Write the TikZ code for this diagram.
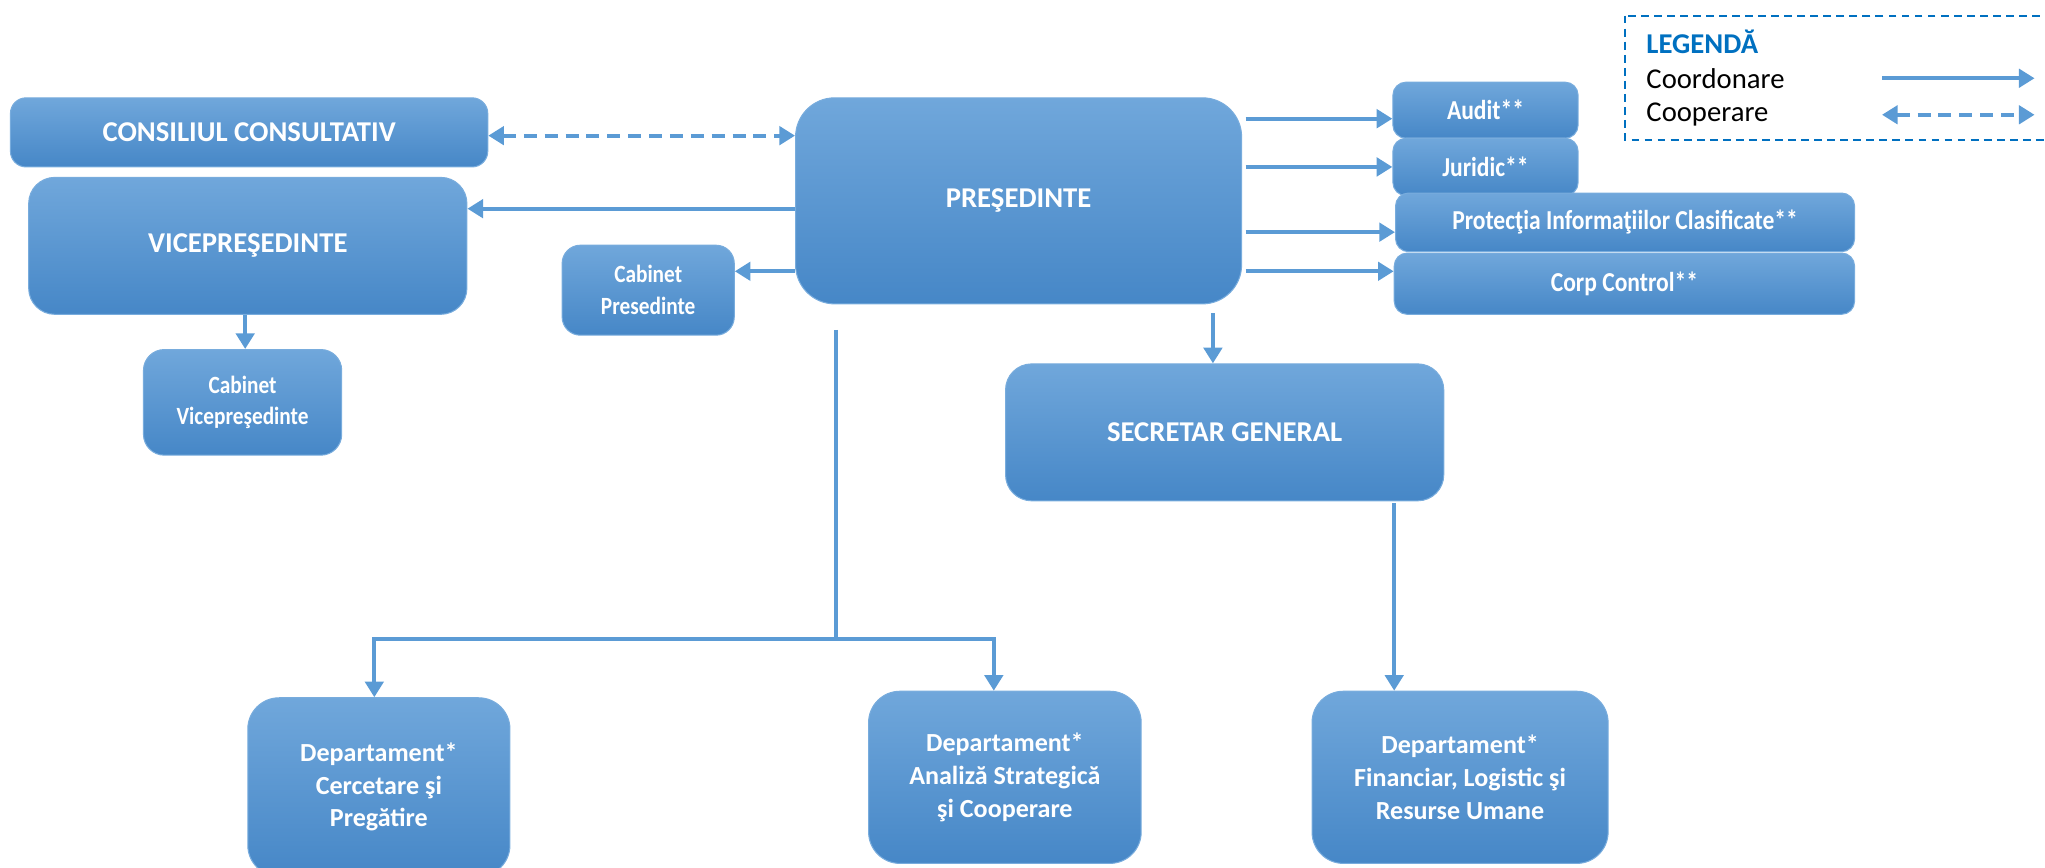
\documentclass[tikz,border=0pt]{standalone}
\usepackage{fontspec}
\setmainfont{Carlito}
\newfontfamily\condfont[FakeStretch=0.86]{Carlito}
\usetikzlibrary{arrows.meta,calc}
\definecolor{boxtop}{HTML}{70A7DB}
\definecolor{boxbot}{HTML}{4687C7}
\definecolor{boxedge}{HTML}{78ACDD}
\definecolor{ln}{HTML}{5B9BD5}
\definecolor{legblue}{HTML}{0070C0}
\begin{document}
\begin{tikzpicture}[x=0.5pt,y=-0.5pt,
 box/.style={rectangle, rounded corners=#1, top color=boxtop, bottom color=boxbot, draw=boxedge, line width=0.4pt, text=white, align=center, inner sep=0pt},
 box/.default=4pt,
 tip/.style={},
 arr/.style={draw=ln, line width=1.5pt, -{Triangle[length=6pt,width=7pt]}},
 coop/.style={draw=ln, line width=1.5pt, dash pattern=on 5pt off 3pt, {Triangle[length=6pt,width=7pt]}-{Triangle[length=6pt,width=7pt]}},
 plainline/.style={draw=ln, line width=1.5pt},
 ttl/.style={font=\bfseries\fontsize{11}{13}\selectfont},
 dept/.style={font=\bfseries\fontsize{10}{12.5}\selectfont},
 cab/.style={font=\condfont\bfseries\fontsize{9.5}{12.2}\selectfont},
 side/.style={font=\condfont\bfseries\fontsize{10.5}{12}\selectfont},
 legtxt/.style={font=\fontsize{11}{13}\selectfont, anchor=west, inner sep=0pt}
]
\useasboundingbox (0,0) rectangle (1568,665.5);
\clip (0,0) rectangle (1568,665.5);

% legend
\draw[legblue, line width=0.8pt, dash pattern=on 3pt off 2pt] (1246,12) rectangle (1580,107);
\node[legtxt, text=legblue, font=\bfseries\fontsize{11}{13}\selectfont] (leg) at (1262,32) {LEGENDĂ};
\node[legtxt] (lcoord) at (1262,60) {Coordonare};
\node[legtxt] (lcoop) at (1262,88) {Cooperare};
\coordinate (la1) at (1443,60);
\coordinate (la2) at (1560,60);
\coordinate (lb1) at (1443,88);
\coordinate (lb2) at (1560,88);
\draw[arr] (la1) -- (la2);
\draw[coop] (lb1) -- (lb2);

% boxes
\node[box=6pt, minimum width=183pt, minimum height=26.5pt, ttl] (cons) at (191,101.5) {CONSILIUL CONSULTATIV};
\node[box=10pt, minimum width=168pt, minimum height=52.5pt, ttl] (vice) at (190,188.5) {VICEPREŞEDINTE};
\node[box=8pt, minimum width=76pt, minimum height=40.5pt, cab] (cabv) at (186,308.5) {Cabinet\\Vicepreşedinte};
\node[box=7pt, minimum width=66pt, minimum height=34.5pt, cab] (cabp) at (497,222.5) {Cabinet\\Presedinte};
\node[box=15pt, minimum width=171pt, minimum height=79pt, ttl] (pres) at (781,154) {PREŞEDINTE};
\node[box=5pt, minimum width=71pt, minimum height=21.5pt, side] (audit) at (1139,84.5) {Audit**};
\node[box=5pt, minimum width=71pt, minimum height=22pt, side] (jur) at (1139,128) {Juridic**};
\node[box=5pt, minimum width=176pt, minimum height=22.5pt, side] (pic) at (1246,170.5) {Protecţia Informaţiilor Clasificate**};
\node[box=5pt, minimum width=176.5pt, minimum height=23.5pt, side] (corp) at (1245.5,217.5) {Corp Control**};
\node[box=10pt, minimum width=168pt, minimum height=52.5pt, ttl] (sg) at (939,331.5) {SECRETAR GENERAL};
\node[box=12pt, minimum width=100.5pt, minimum height=68.5pt, dept] (dcp) at (290.5,603.5) {Departament*\\Cercetare şi\\Pregătire};
\node[box=12pt, minimum width=104.5pt, minimum height=66pt, dept] (dasc) at (770.5,596) {Departament*\\Analiză Strategică\\şi Cooperare};
\node[box=12pt, minimum width=113.5pt, minimum height=66pt, dept] (dflr) at (1119.5,596) {Departament*\\Financiar, Logistic şi\\Resurse Umane};

% connectors
\draw[coop] (cons.east |- 0,104) -- (pres.west |- 0,104);
\draw[arr] (pres.west |- 0,160) -- (vice.east |- 0,160);
\draw[arr] (pres.west |- 0,208) -- (cabp.east |- 0,208);
\draw[arr] (vice.south -| 188,0) -- (cabv.north -| 188,0);

\draw[arr] (955,91) -- (audit.west |- 0,91);
\draw[arr] (955,128) -- (jur.west |- 0,128);
\draw[arr] (955,178) -- (pic.west |- 0,178);
\draw[arr] (955,208) -- (corp.west |- 0,208);

\coordinate (p2s) at (930,240);
\draw[arr] (p2s) -- (sg.north -| p2s);
\coordinate (s2f) at (1069,386);
\draw[arr] (s2f) -- (dflr.north -| s2f);

\coordinate (brtop) at (641,253);
\coordinate (br) at (641,490);
\coordinate (brl) at (287,490);
\coordinate (brr) at (762,490);
\draw[plainline] (brtop) -- (br);
\draw[plainline] (brl) -- (brr);
\draw[arr] ([yshift=0.75pt]brl) -- (dcp.north -| brl);
\draw[arr] ([yshift=0.75pt]brr) -- (dasc.north -| brr);
\end{tikzpicture}
\end{document}
